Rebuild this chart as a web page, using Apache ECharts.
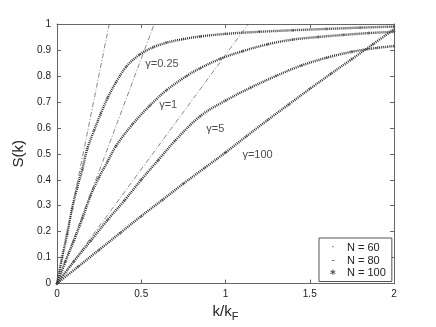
<!DOCTYPE html>
<html><head><meta charset="utf-8">
<script src="https://cdn.jsdelivr.net/npm/echarts@6/dist/echarts.min.js"></script>
<style>html,body{margin:0;padding:0;background:#fff}#c{width:436px;height:327px}</style>
</head><body><div id="c"></div>
<script>
// ---- data ----
const k_g025 = [0,0.03,0.06,0.09,0.12,0.15,0.18,0.22,0.26,0.30,0.35,0.41,0.49,0.57,0.65,0.75,0.85,1.0,1.2,1.4,1.6,1.8,2.0];
const s_g025 = [0,0.10,0.19,0.29,0.37,0.44,0.52,0.59,0.655,0.715,0.775,0.835,0.882,0.91,0.928,0.942,0.952,0.962,0.97,0.976,0.981,0.986,0.99];
const k_g1 = [0,0.05,0.1,0.15,0.2,0.25,0.3,0.35,0.45,0.55,0.65,0.77,0.85,0.97,1.1,1.25,1.4,1.55,1.7,1.85,2.0];
const s_g1 = [0,0.085,0.165,0.25,0.34,0.41,0.47,0.53,0.615,0.685,0.745,0.80,0.83,0.866,0.895,0.922,0.94,0.95,0.958,0.965,0.97];
const k_g5 = [0,0.1,0.2,0.3,0.4,0.5,0.6,0.7,0.85,1.0,1.15,1.3,1.45,1.6,1.75,1.9,2.0];
const s_g5 = [0,0.085,0.165,0.245,0.32,0.40,0.475,0.55,0.645,0.705,0.755,0.80,0.84,0.87,0.893,0.908,0.915];
const k_g100 = [0,0.125,0.25,0.375,0.5,0.625,0.75,0.875,1.0,1.125,1.25,1.375,1.5,1.625,1.75,1.875,2.0];
const s_g100 = [0,0.065,0.13,0.195,0.26,0.322,0.385,0.445,0.505,0.568,0.63,0.69,0.75,0.808,0.865,0.922,0.98];
const tangentEnds = [0.31, 0.577, 1.135];   // k where small-k lines reach S=1
const gammaNames = ['γ=0.25','γ=1','γ=5','γ=100'];
const legendNames = ['N = 60','N = 80','N = 100'];
const legendMarks = ['·','-','∗'];
const xTickLabels = ['0','0.5','1','1.5','2'];

// ---- build ----
const curves = [[k_g025,s_g025],[k_g1,s_g1],[k_g5,s_g5],[k_g100,s_g100]];
const labelPos = [[0.623,0.846],[0.66,0.688],[0.94,0.594],[1.19,0.495]];
const plusPath = 'path://M0,4.5H10V5.5H0Z M4.5,0H5.5V10H4.5Z';
const series = [];
curves.forEach(([ks, ss], gi) => {
  const pts = ks.map((k,i)=>[k, ss[i]]);
  series.push({name:legendNames[0], type:'line', data:pts, smooth:0.35,
    symbol:'none', showSymbol:false,
    lineStyle:{width:2.4, color:'#333', type:[1,1]}, z:3});
  series.push({name:legendNames[1], type:'scatter', data:pts, symbol:plusPath, symbolSize:3,
    symbolRotate:45, itemStyle:{color:'#444'}, z:4});
  series.push({name:legendNames[2], type:'scatter', data:pts, symbol:plusPath, symbolSize:3.5,
    itemStyle:{color:'#444'}, z:4});
});
tangentEnds.forEach(e => {
  series.push({name:'tangent', type:'line', data:[[0,0],[e,1]], symbol:'none', clip:true,
    lineStyle:{width:0.7, color:'#555', type:[5,2,1,2]}, z:2});
});
gammaNames.forEach((g,i) => {
  series.push({name:'lbl', type:'scatter', data:[labelPos[i]], symbolSize:0, silent:true,
    label:{show:true, position:'inside', formatter:g, color:'#222', fontSize:11, fontFamily:'Liberation Sans'}, z:6});
});

const axisCommon = {
  type:'value', splitLine:{show:false},
  axisLine:{show:true, onZero:false, lineStyle:{color:'#666', width:1}},
  axisTick:{show:true, inside:true, length:4, lineStyle:{color:'#666'}},
};
const option = {
  animation:false,
  backgroundColor:'#fff',
  grid:{left:57, right:42, top:24, bottom:38},
  xAxis:[
    Object.assign({}, axisCommon, {min:0, max:2, interval:0.5, position:'bottom',
      axisLabel:{color:'#222', fontSize:10, margin:6, fontFamily:'Liberation Sans',
        formatter:(v)=>xTickLabels[Math.round(v*2)]},
      name:'{a|k/k}{b|F}', nameLocation:'middle', nameGap:11,
      nameTextStyle:{rich:{a:{fontSize:15, color:'#222', fontFamily:'Liberation Sans'},
        b:{fontSize:11, color:'#222', fontFamily:'Liberation Sans', padding:[9,0,0,0]}}}}),
    Object.assign({}, axisCommon, {min:0, max:2, interval:0.5, position:'top', axisLabel:{show:false}})
  ],
  yAxis:[
    Object.assign({}, axisCommon, {min:0, max:1, interval:0.1, position:'left',
      axisLabel:{color:'#222', fontSize:10, margin:6, fontFamily:'Liberation Sans'},
      name:'S(k)', nameLocation:'middle', nameGap:23, nameRotate:90,
      nameTextStyle:{fontSize:15, color:'#222', fontFamily:'Liberation Sans'}}),
    Object.assign({}, axisCommon, {min:0, max:1, interval:0.1, position:'right', axisLabel:{show:false}})
  ],
  legend:{
    orient:'vertical', left:319, top:238, padding:[3,6,3,3], itemGap:0,
    itemWidth:1, itemHeight:14, icon:'none',
    borderColor:'#555', borderWidth:1, borderRadius:0, backgroundColor:'#fff',
    data:legendNames, selectedMode:false,
    formatter:(n)=>'{ic|'+legendMarks[legendNames.indexOf(n)]+'}{t|'+n+'}',
    textStyle:{rich:{
      ic:{width:10, align:'center', fontSize:9, lineHeight:14, fontFamily:'DejaVu Sans', color:'#333'},
      t:{fontSize:11, lineHeight:14, padding:[0,0,0,9], fontFamily:'Liberation Sans', color:'#222'}
    }}
  },
  series: series
};
const chart = echarts.init(document.getElementById('c'), null, {renderer:'canvas'});
chart.setOption(option);
</script></body></html>
